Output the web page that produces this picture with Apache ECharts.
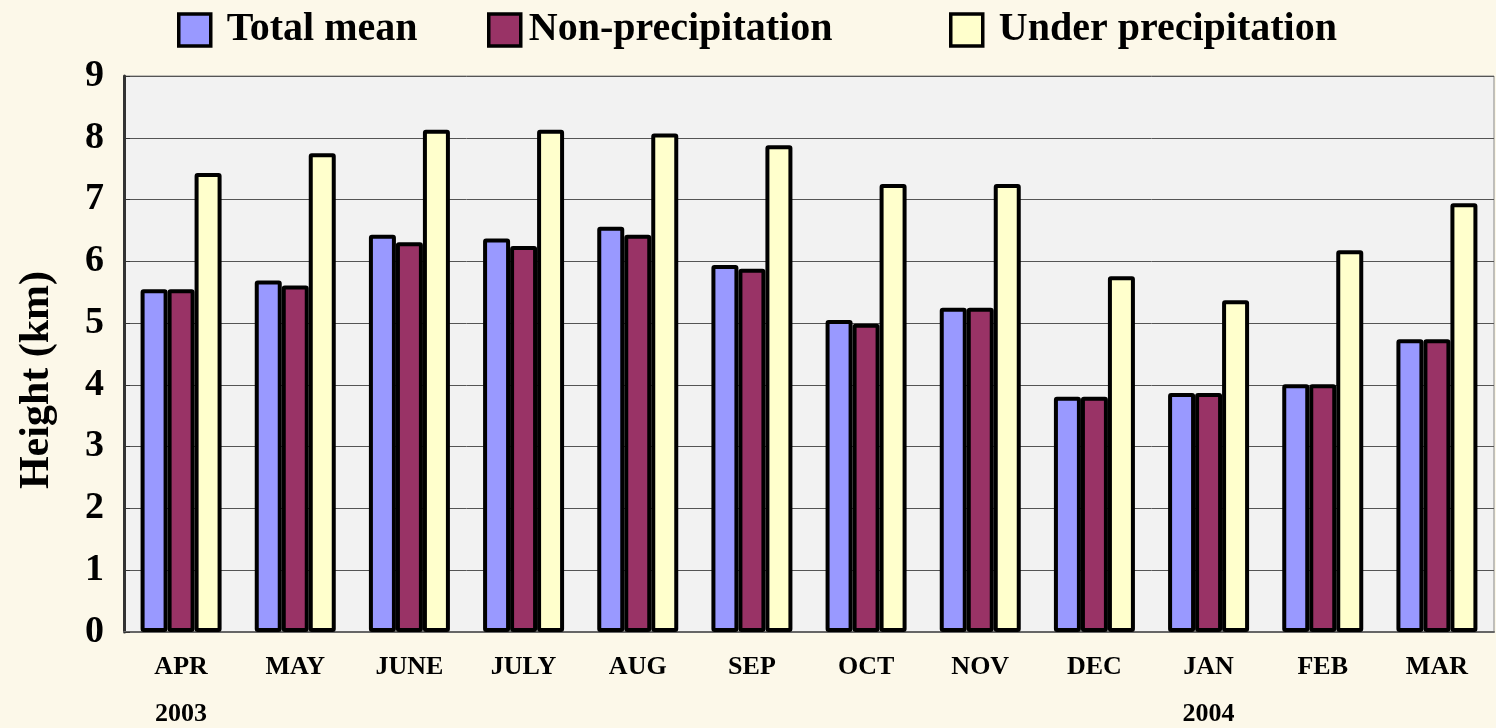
<!DOCTYPE html>
<html>
<head>
<meta charset="utf-8">
<script src="https://cdn.jsdelivr.net/npm/echarts@6/dist/echarts.min.js"></script>
<style>
  html, body { margin: 0; padding: 0; background: #fcf8e9; }
  #chart { width: 1496px; height: 728px; }
</style>
</head>
<body>
<div id="chart"></div>
<script>
// data
const months = ["APR", "MAY", "JUNE", "JULY", "AUG", "SEP", "OCT", "NOV", "DEC", "JAN", "FEB", "MAR"];
const years = { 0: "2003", 9: "2004" };
const totalMean = [5.55, 5.69, 6.43, 6.37, 6.56, 5.94, 5.05, 5.25, 3.81, 3.87, 4.01, 4.74];
const nonPrecip = [5.55, 5.61, 6.31, 6.25, 6.43, 5.88, 4.99, 5.25, 3.81, 3.87, 4.01, 4.74];
const underPrecip = [7.43, 7.75, 8.13, 8.13, 8.07, 7.88, 7.25, 7.25, 5.76, 5.37, 6.18, 6.94];
const yTicks = [0, 1, 2, 3, 4, 5, 6, 7, 8, 9];

const font = "'Liberation Serif', 'Times New Roman', serif";
const chart = echarts.init(document.getElementById("chart"));

function legendAt(name, left, gap) {
  return {
    data: [name],
    left: left,
    top: 5,
    icon: "rect",
    itemWidth: 32,
    itemHeight: 32,
    itemStyle: { borderColor: "#000", borderWidth: 3.5 },
    textStyle: {
      fontFamily: font, fontWeight: "bold", fontSize: 40, color: "#000",
      padding: [0, 0, 0, gap]
    }
  };
}

function barSeries(name, data, color) {
  return {
    name: name,
    type: "bar",
    data: data,
    barWidth: 27,
    barGap: "0%",
    itemStyle: { color: color, borderColor: "#000", borderWidth: 4, borderRadius: 1 }
  };
}

const option = {
  backgroundColor: "#fcf8e9",
  animation: false,
  legend: [
    legendAt("Total mean", 172, 11),
    legendAt("Non-precipitation", 482, 3),
    legendAt("Under precipitation", 944, 11)
  ],
  grid: {
    left: 124, right: 2, top: 76, bottom: 96,
    outerBoundsMode: "none",
    show: true,
    backgroundColor: "#f2f2f2",
    borderColor: "#888",
    borderWidth: 1
  },
  xAxis: {
    type: "category",
    data: months,
    axisLine: { lineStyle: { color: "#666", width: 2 } },
    axisTick: { inside: true, length: 10, lineStyle: { color: "#333" } },
    axisLabel: {
      fontFamily: font, fontWeight: "bold", fontSize: 26, color: "#000",
      lineHeight: 47, margin: 12,
      formatter: (v, i) => years[i] ? v + "\n" + years[i] : v
    }
  },
  yAxis: {
    type: "value",
    min: yTicks[0],
    max: yTicks[yTicks.length - 1],
    interval: 1,
    name: "Height (km)",
    nameLocation: "middle",
    nameGap: 66,
    nameTextStyle: {
      fontFamily: font, fontWeight: "bold", fontSize: 42, color: "#000",
      padding: [0, 52, 0, 0]
    },
    axisLine: { show: true, lineStyle: { color: "#333", width: 3 } },
    axisTick: { show: true, inside: true, length: 6, lineStyle: { color: "#333" } },
    axisLabel: {
      fontFamily: font, fontWeight: "bold", fontSize: 38, color: "#000", margin: 20
    },
    splitLine: { lineStyle: { color: "#555", width: 1 } }
  },
  series: [
    barSeries("Total mean", totalMean, "#9999ff"),
    barSeries("Non-precipitation", nonPrecip, "#993366"),
    barSeries("Under precipitation", underPrecip, "#ffffcc")
  ]
};

chart.setOption(option);
</script>
</body>
</html>
